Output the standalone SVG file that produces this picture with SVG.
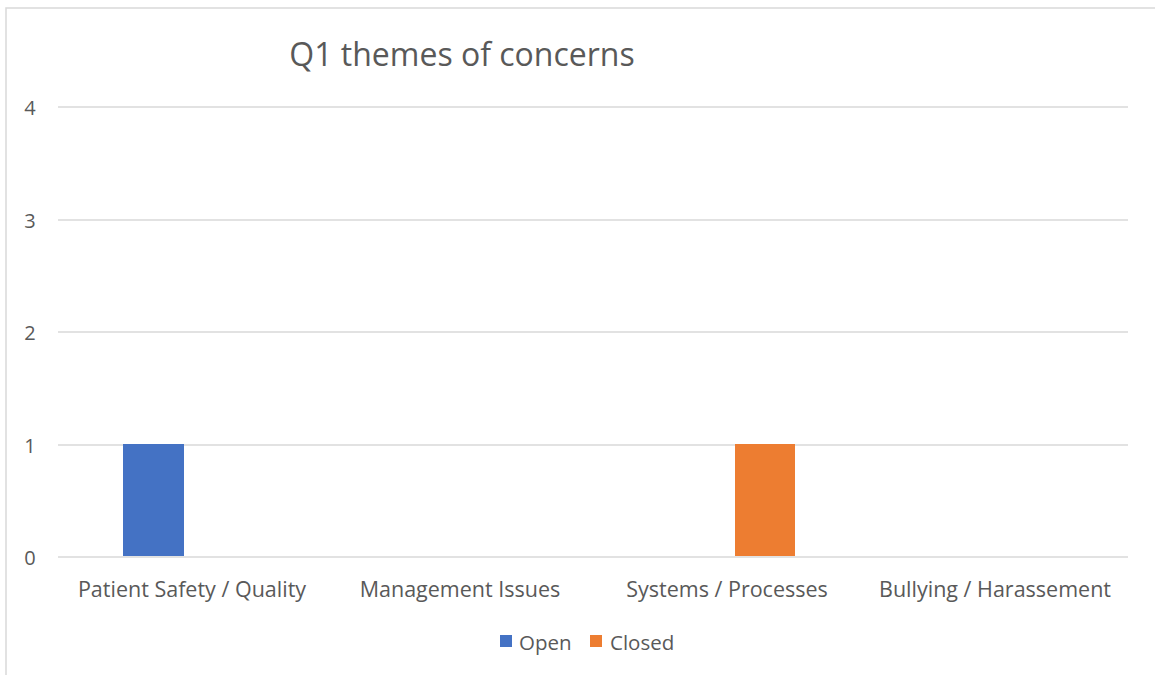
<svg xmlns="http://www.w3.org/2000/svg" width="1155" height="675" viewBox="0 0 1155 675">
<style>
text{font-family:"Open Sans","Liberation Sans",sans-serif;fill:#595959}
.grid{stroke:#d9d9d9;stroke-width:1.5}
.ax{font-size:20px}
.cat{font-size:21.5px;text-anchor:middle}
.leg{font-size:20.5px}
</style>
<rect x="0" y="0" width="1155" height="675" fill="#fff"/>
<rect x="6" y="8" width="1200" height="700" fill="#fff" stroke="#d9d9d9" stroke-width="1.5"/>
<g id="title"><text x="462" y="66" font-size="32" text-anchor="middle">Q1 themes of concerns</text></g>
<g id="gridlines">
<line class="grid" x1="58" y1="107" x2="1128" y2="107"/>
<line class="grid" x1="58" y1="220" x2="1128" y2="220"/>
<line class="grid" x1="58" y1="332" x2="1128" y2="332"/>
<line class="grid" x1="58" y1="445" x2="1128" y2="445"/>
<line class="grid" x1="58" y1="557" x2="1128" y2="557"/>
</g>
<g id="yaxis">
<text class="ax" x="30" y="115" text-anchor="middle">4</text>
<text class="ax" x="30" y="228" text-anchor="middle">3</text>
<text class="ax" x="30" y="340" text-anchor="middle">2</text>
<text class="ax" x="30" y="453" text-anchor="middle">1</text>
<text class="ax" x="30" y="565" text-anchor="middle">0</text>
</g>
<g id="bars">
<rect x="123" y="444" width="61" height="112" fill="#4472c4"/>
<rect x="735" y="444" width="60" height="112" fill="#ed7d31"/>
</g>
<g id="categories">
<text class="cat" x="192" y="597">Patient Safety / Quality</text>
<text class="cat" x="460" y="597">Management Issues</text>
<text class="cat" x="727" y="597">Systems / Processes</text>
<text class="cat" x="995" y="597">Bullying / Harassement</text>
</g>
<g id="legend">
<rect x="500" y="635" width="12" height="12" fill="#4472c4"/>
<text class="leg" x="519" y="650">Open</text>
<rect x="590" y="635" width="12" height="12" fill="#ed7d31"/>
<text class="leg" x="610" y="650">Closed</text>
</g>
</svg>
